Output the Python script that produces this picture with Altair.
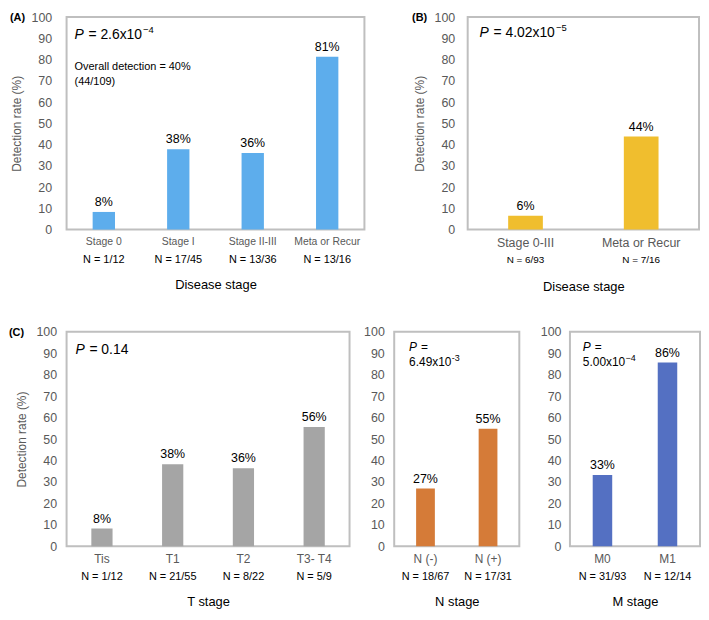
import altair as alt
import pandas as pd

FONT = "Liberation Sans"
GRAY_TXT = "#595959"

# ---- data ----
a_cats = ["Stage 0", "Stage I", "Stage II-III", "Meta or Recur"]
a_vals = [8.3, 37.8, 36.1, 81.3]
a_pcts = ["8%", "38%", "36%", "81%"]
a_ns = ["N = 1/12", "N = 17/45", "N = 13/36", "N = 13/16"]

b_cats = ["Stage 0-III", "Meta or Recur"]
b_vals = [6.5, 43.8]
b_pcts = ["6%", "44%"]
b_ns = ["N = 6/93", "N = 7/16"]

t_cats = ["Tis", "T1", "T2", "T3- T4"]
t_vals = [8.3, 38.2, 36.4, 55.6]
t_pcts = ["8%", "38%", "36%", "56%"]
t_ns = ["N = 1/12", "N = 21/55", "N = 8/22", "N = 5/9"]

n_cats = ["N (-)", "N (+)"]
n_vals = [26.9, 54.8]
n_pcts = ["27%", "55%"]
n_ns = ["N = 18/67", "N = 17/31"]

m_cats = ["M0", "M1"]
m_vals = [33.3, 85.7]
m_pcts = ["33%", "86%"]
m_ns = ["N = 31/93", "N = 12/14"]

y_ticks = [0, 10, 20, 30, 40, 50, 60, 70, 80, 90, 100]


def txt(text, x, y, size=13, style="normal", weight="normal", color="black"):
    return alt.Chart(pd.DataFrame({"t": [text]})).mark_text(
        align="left", baseline="middle", fontSize=size, font=FONT,
        fontStyle=style, fontWeight=weight, color=color
    ).encode(x=alt.value(x), y=alt.value(y), text="t:N")


def panel(cats, vals, pcts, ns, color, w, h, xtitle, annots, ytitle=True,
          ylabpad=14, tick_size=12.5, cat_size=11, n_size=11):
    df = pd.DataFrame({"cat": cats, "val": vals, "pct": pcts, "n": ns})
    xaxis = alt.Axis(title=xtitle, labelAngle=0, domain=False, ticks=False,
                     labelPadding=7, labelFontSize=cat_size, labelFont=FONT,
                     labelColor=GRAY_TXT, titleFont=FONT, titleFontSize=13,
                     titleFontWeight="normal", titleColor="black",
                     titlePadding=32, labelOverlap=False)
    xscale = alt.Scale(paddingInner=0, paddingOuter=0)
    x = alt.X("cat:N", sort=cats, scale=xscale, axis=xaxis)
    yaxis = dict(values=y_ticks, grid=False, domain=False, ticks=False,
                 labelPadding=ylabpad, labelFontSize=tick_size, labelFont=FONT,
                 labelColor=GRAY_TXT, labelOverlap=False)
    if ytitle:
        yaxis.update(title="Detection rate (%)", titleFont=FONT, titleFontSize=12,
                     titleFontWeight="normal", titleColor=GRAY_TXT, titlePadding=8)
    else:
        yaxis.update(title=None)
    yscale = alt.Scale(domain=[0, 100])
    y = alt.Y("val:Q", scale=yscale, axis=alt.Axis(**yaxis))
    base = alt.Chart(df)
    bars = base.mark_bar(color=color, width={"band": 0.3}).encode(x=x, y=y)
    pct = base.mark_text(baseline="bottom", dy=-3, fontSize=12.5, font=FONT,
                         color="black").encode(x=x, y=y, text="pct:N")
    nl = base.mark_text(baseline="middle", dy=31, fontSize=n_size, font=FONT,
                        color="black").encode(
        x=x, y=alt.YDatum(0, scale=yscale, axis=alt.Axis(**yaxis)), text="n:N")
    layers = [bars, pct, nl] + annots
    return alt.layer(*layers).properties(width=w, height=h)


A = panel(a_cats, a_vals, a_pcts, a_ns, "#5DADEC", 300, 214, "Disease stage", [
    txt("(A)", -57, 1, size=11, weight="bold"),
    txt("P", 8, 18, size=14, style="italic"),
    txt("= 2.6x10", 22, 18, size=14),
    txt("−4", 77, 13, size=9.5),
    txt("Overall detection = 40%", 8, 50, size=11),
    txt("(44/109)", 8, 65, size=11),
], ylabpad=15, cat_size=10.5)

B = panel(b_cats, b_vals, b_pcts, b_ns, "#F0BE2E", 233, 214, "Disease stage", [
    txt("(B)", -56, 1, size=11, weight="bold"),
    txt("P", 12, 16, size=14, style="italic"),
    txt("= 4.02x10", 26, 16, size=14),
    txt("−5", 89, 11, size=9.5),
], ylabpad=13, cat_size=12.5, n_size=10)

T = panel(t_cats, t_vals, t_pcts, t_ns, "#A5A5A5", 285, 216, "T stage", [
    txt("(C)", -58, 1, size=11, weight="bold"),
    txt("P", 9, 18, size=14, style="italic"),
    txt("= 0.14", 23, 18, size=14),
], ylabpad=10, cat_size=12)

N = panel(n_cats, n_vals, n_pcts, n_ns, "#D57B38", 126, 216, "N stage", [
    txt("P", 15, 15, size=12, style="italic"),
    txt("=", 27, 15, size=12),
    txt("6.49x10", 15, 30, size=12),
    txt("-3", 58, 26, size=9),
], ytitle=False, ylabpad=10, cat_size=12)

M = panel(m_cats, m_vals, m_pcts, m_ns, "#5470C2", 131, 216, "M stage", [
    txt("P", 13, 15, size=12, style="italic"),
    txt("=", 25, 15, size=12),
    txt("5.00x10", 13, 30, size=12),
    txt("−4", 56, 26, size=9),
], ytitle=False, ylabpad=9, cat_size=12)

row1 = alt.hconcat(A, B, spacing=46)
row2 = alt.hconcat(T, alt.hconcat(N, M, spacing=19), spacing=12)

chart = alt.vconcat(row1, row2, spacing=30).properties(
    padding=0
).configure_view(stroke="#BFBFBF", strokeWidth=2)

chart.save("out.html", embed_options={"renderer": "svg", "actions": False})
